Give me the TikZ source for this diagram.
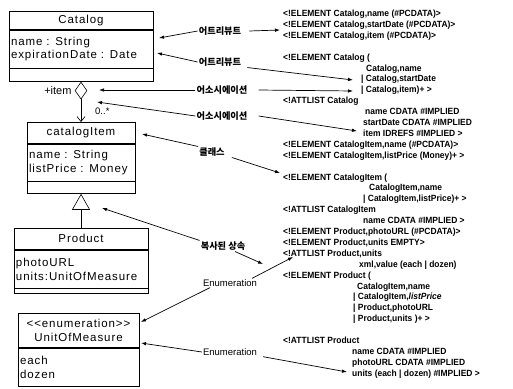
\documentclass[tikz,border=0pt]{standalone}
\usepackage{fontspec}
\setmainfont{Liberation Sans}
\newfontfamily\umlfont[LetterSpace=8]{Liberation Sans}
\newfontfamily\dtdfont[FakeStretch=0.94]{Liberation Sans}
\newfontfamily\kofont{Noto Sans CJK KR}
\usetikzlibrary{arrows.meta, positioning, shapes.geometric}

\begin{document}
\begin{tikzpicture}[x=1pt, y=-1pt,
  head/.style={draw, line width=0.6pt, inner sep=2pt, align=center,
               font=\umlfont\fontsize{11.5}{14}\selectfont},
  body/.style={draw, line width=0.6pt, inner sep=2pt, align=left,
               font=\umlfont\fontsize{11.5}{14}\selectfont},
  dtd/.style={anchor=base west, inner sep=0pt,
              font=\dtdfont\bfseries\fontsize{9}{10}\selectfont},
  lab/.style={inner sep=1pt, font=\kofont\bfseries\fontsize{9.2}{10}\selectfont},
  enum/.style={inner sep=1pt, font=\fontsize{9.5}{10}\selectfont},
  arr/.style={-{Latex[length=5pt, width=3.5pt]}, line width=0.7pt},
  assoc/.style={-{Straight Barb[length=5pt, width=8pt]}, line width=0.6pt},
  gen/.style={-{Triangle[open, length=16pt, width=18pt]}, line width=0.6pt}
]
\useasboundingbox (0,0) rectangle (513,388);

% UML classes
\node[head, minimum width=144pt, minimum height=18pt, anchor=north] (cat) at (81,11) {Catalog};
\node[body, minimum height=38pt, text width=140pt, below=0pt of cat] (catAttr)
  {name : String\\[-1pt]expirationDate : Date};
\node[body, minimum width=144pt, minimum height=13pt, below=0pt of catAttr] (catOps) {};

\node[diamond, draw, line width=0.6pt, minimum width=12pt, minimum height=17pt,
      inner sep=0pt, anchor=north] (agg) at (catOps.south) {};
\node[enum, font=\fontsize{11}{12}\selectfont, left=2pt of agg] (role) {+item};

\node[head, minimum width=108pt, minimum height=21pt, anchor=north] (ci) at (81,122) {catalogItem};
\node[body, minimum height=37pt, text width=104pt, below=0pt of ci] (ciAttr)
  {name : String\\listPrice : Money};
\node[body, minimum width=108pt, minimum height=12pt, below=0pt of ciAttr] (ciOps) {};
\draw[assoc] (agg.south) -- (ci.north);
\node[enum, anchor=west] (mult) at (94,111) {0..*};

\node[head, minimum width=134pt, minimum height=21pt, anchor=north] (prod) at (81,228) {Product};
\node[body, minimum height=38pt, text width=130pt, below=0pt of prod] (prodAttr)
  {photoURL\\units:UnitOfMeasure};
\node[body, minimum width=134pt, minimum height=5pt, below=0pt of prodAttr] (prodOps) {};
\draw[gen] (prod.north) -- (ciOps.south);

\node[head, minimum width=121pt, minimum height=34pt, anchor=north] (uom) at (78.5,313)
  {{<}{<}enumeration{>}{>}\\UnitOfMeasure};
\node[body, minimum height=38pt, text width=117pt, below=0pt of uom] (uomAttr) {each\\dozen};

% DTD text
\foreach \k/\x/\t in {
  0/283/{<!ELEMENT Catalog,name (\#PCDATA)>},
  1/283/{<!ELEMENT Catalog,startDate (\#PCDATA)>},
  2/283/{<!ELEMENT Catalog,item (\#PCDATA)>},
  4/283/{<!ELEMENT Catalog (},
  5/366/{Catalog,name},
  6/361/{| Catalog,startDate},
  7/361/{| Catalog,item)+ >},
  8/283/{<!ATTLIST Catalog},
  9/365/{name CDATA \#IMPLIED},
  10/363/{startDate CDATA \#IMPLIED},
  11/363/{item IDREFS \#IMPLIED >},
  12/283/{<!ELEMENT CatalogItem,name (\#PCDATA)>},
  13/283/{<!ELEMENT CatalogItem,listPrice (Money)+ >},
  15/283/{<!ELEMENT CatalogItem (},
  16/369/{CatalogItem,name},
  17/363/{| CatalogItem,listPrice)+ >},
  18/283/{<!ATTLIST CatalogItem},
  19/363/{name CDATA \#IMPLIED >},
  20/283/{<!ELEMENT Product,photoURL (\#PCDATA)>},
  21/283/{<!ELEMENT Product,units EMPTY>},
  22/283/{<!ATTLIST Product,units},
  23/359/{xml,value (each | dozen)},
  24/283/{<!ELEMENT Product (},
  25/357/{CatalogItem,name},
  26/353/{| CatalogItem,\textit{listPrice}},
  27/353/{| Product,photoURL},
  28/353/{| Product,units )+ >},
  30/283/{<!ATTLIST Product},
  31/352/{name CDATA \#IMPLIED},
  32/352/{photoURL CDATA \#IMPLIED},
  33/352/{units (each | dozen) \#IMPLIED >}}
  \node[dtd] (d\k) at (\x,{16.5+10.9*\k}) {\t};

% mapping labels
\node[lab] (l1) at (220,31) {어트리뷰트};
\node[lab] (l2) at (220,62) {어트리뷰트};
\node[lab] (l3) at (222,90) {어소시에이션};
\node[lab] (l4) at (222,116) {어소시에이션};
\node[lab] (l5) at (212,152) {클래스};
\node[lab] (l6) at (223,246) {복사된 상속};
\node[enum] (l7) at (230,283) {Enumeration};
\node[enum] (l8) at (230,352) {Enumeration};

% arrow ends
\coordinate (tName) at (159,38);
\coordinate (tDate) at (157,53);
\coordinate (tRole) at (99,90);
\coordinate (tMult) at (97,102);
\coordinate (tItem) at (142,134);
\coordinate (tGen) at (102,208);
\coordinate (tEnum) at (141,322);
\coordinate (tUom) at (141,343);
\coordinate (r1) at (280,30);
\coordinate (r2) at (353,80);
\coordinate (r3) at (353,91);
\coordinate (r4) at (357,131);
\coordinate (r5) at (280,173);
\coordinate (r6) at (263,264);
\coordinate (r7) at (293,257);
\coordinate (r8) at (347,372);

\draw[arr] (l1.west) -- (tName);
\draw[arr] ([xshift=7pt]l1.east) -- (r1);
\draw[arr] (l2.west) -- (tDate);
\draw[arr] ([xshift=5pt]l2.south east) -- (r2);
\draw[arr] (l3.west) -- (tRole);
\draw[arr] ([xshift=10pt]l3.east) -- (r3);
\draw[arr] (l4.west) -- (tMult);
\draw[arr] ([xshift=10pt]l4.east) -- (r4);
\draw[arr] (l5.north west) -- (tItem);
\draw[arr] ([xshift=6pt]l5.south east) -- (r5);
\draw[arr] (l6.north west) -- (tGen);
\draw[arr] ([xshift=12pt]l6.south) -- (r6);
\draw[arr] ([xshift=8pt]l7.south west) -- (tEnum);
\draw[arr] ([xshift=-6pt]l7.north east) -- (r7);
\draw[arr] (l8.west) -- (tUom);
\draw[arr] ([xshift=5pt]l8.south east) -- (r8);
\end{tikzpicture}
\end{document}
